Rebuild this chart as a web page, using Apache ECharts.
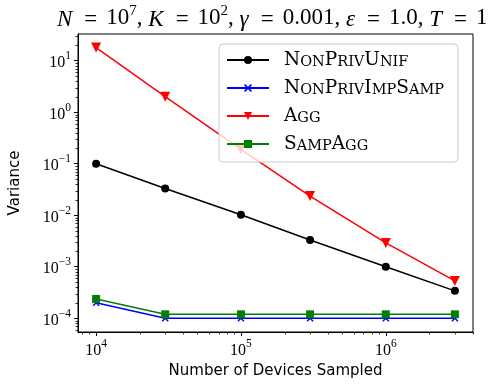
<!DOCTYPE html>
<html>
<head>
<meta charset="utf-8">
<script src="https://cdn.jsdelivr.net/npm/echarts@6/dist/echarts.min.js"></script>
<style>
  html, body { margin: 0; padding: 0; background: #fff; }
  #main { width: 498px; height: 388px; }
</style>
</head>
<body>
<div id="main"></div>
<script>
// number of devices sampled (x)
var devices = [1e4, 3e4, 1e5, 3e5, 1e6, 3e6];
// variance per method
var nonPrivUnif = [0.1, 0.033, 0.0102, 0.0033, 0.001, 0.00034];
var nonPrivImpSamp = [0.0002, 0.0001, 0.0001, 0.0001, 0.0001, 0.0001];
var agg = [18, 2.0, 0.19, 0.0235, 0.0029, 0.00053];
var sampAgg = [0.000236, 0.000119, 0.000119, 0.000119, 0.000119, 0.000119];
var seriesNames = ['NonPrivUnif', 'NonPrivImpSamp', 'Agg', 'SampAgg'];
// minor tick values
var xMinorTicks = [8e3, 9e3, 2e4, 3e4, 4e4, 5e4, 6e4, 7e4, 8e4, 9e4,
  2e5, 3e5, 4e5, 5e5, 6e5, 7e5, 8e5, 9e5, 2e6, 3e6, 4e6];
var yMinorTicks = [6e-5, 7e-5, 8e-5, 9e-5,
  2e-4, 3e-4, 4e-4, 5e-4, 6e-4, 7e-4, 8e-4, 9e-4,
  2e-3, 3e-3, 4e-3, 5e-3, 6e-3, 7e-3, 8e-3, 9e-3,
  2e-2, 3e-2, 4e-2, 5e-2, 6e-2, 7e-2, 8e-2, 9e-2,
  2e-1, 3e-1, 4e-1, 5e-1, 6e-1, 7e-1, 8e-1, 9e-1,
  2, 3, 4, 5, 6, 7, 8, 9, 20, 30];

var xMin = 7500, xMax = 4e6, yMin = 5.4e-5, yMax = 33;
var serif = 'Liberation Serif';
var legendFont = 'DejaVu Serif';

function pairs(vals) {
  return devices.map(function (x, i) { return [x, vals[i]]; });
}

function pow10(v) {
  var e = Math.round(Math.log(v) / Math.LN10);
  return '{b|10}{e|' + (e < 0 ? '\u2212' + (-e) : e) + '}';
}

// small caps imitation
function smallCaps(word) {
  var out = '';
  var m = word.match(/[A-Z][a-z]*/g);
  m.forEach(function (w) {
    out += '{c|' + w[0] + '}';
    if (w.length > 1) out += '{s|' + w.slice(1).toUpperCase() + '}';
  });
  return out;
}

var powRich = {
  b: { fontFamily: serif, fontSize: 16, color: '#000', lineHeight: 21, verticalAlign: 'bottom' },
  e: { fontFamily: serif, fontSize: 11.5, color: '#000', verticalAlign: 'top' }
};

var crossPath = 'path://M0,0.15L0.15,0L0.5,0.35L0.85,0L1,0.15L0.65,0.5L1,0.85L0.85,1L0.5,0.65L0.15,1L0,0.85L0.35,0.5Z';
var triDown = 'path://M0,0L1,0L0.5,0.9Z';

var chart = echarts.init(document.getElementById('main'));

var option = {
  animation: false,
  backgroundColor: '#fff',
  title: {
    text: '{i|N}{o|=}10{s|7}, {i|K}{o|=}10{s|2}, {i|\u03b3}{o|=}0.001, {i|\u03b5}{o|=}1.0, {i|T}{o|=}1',
    left: 57,
    top: 4,
    padding: 0,
    textStyle: {
      fontFamily: serif,
      fontSize: 23,
      fontWeight: 'normal',
      color: '#000',
      rich: {
        i: { fontFamily: serif, fontSize: 23, fontStyle: 'italic', color: '#000', lineHeight: 27, verticalAlign: 'bottom' },
        o: { fontFamily: serif, fontSize: 23, color: '#000', padding: [0, 9, 0, 12], verticalAlign: 'bottom', lineHeight: 27 },
        s: { fontFamily: serif, fontSize: 15, color: '#000', verticalAlign: 'top' }
      }
    }
  },
  grid: {
    left: 74, right: 25, top: 34, bottom: 56,
    show: true, borderColor: '#000', borderWidth: 1
  },
  legend: {
    orient: 'vertical',
    left: 219,
    top: 44,
    padding: [6, 14, 8, 7],
    itemWidth: 42,
    itemHeight: 10,
    itemGap: 8,
    backgroundColor: 'rgba(255,255,255,0.8)',
    borderColor: '#cccccc',
    borderWidth: 1,
    borderRadius: 4,
    data: seriesNames,
    formatter: function (name) { return smallCaps(name); },
    textStyle: {
      fontFamily: legendFont,
      fontSize: 18.5,
      color: '#000',
      lineHeight: 20,
      padding: [0, 0, 0, 10],
      rich: {
        c: { fontFamily: legendFont, fontSize: 18.5, color: '#000', lineHeight: 20, verticalAlign: 'bottom' },
        s: { fontFamily: legendFont, fontSize: 14.5, color: '#000', verticalAlign: 'bottom' }
      }
    }
  },
  xAxis: {
    type: 'log',
    logBase: 10,
    min: xMin,
    max: xMax,
    name: 'Number of Devices Sampled',
    nameLocation: 'middle',
    nameGap: 29,
    nameTextStyle: { fontFamily: 'DejaVu Sans', fontSize: 15, color: '#000' },
    axisLine: { lineStyle: { color: '#000', width: 1 } },
    axisTick: { length: 4, lineStyle: { color: '#000' } },
    splitLine: { show: false },
    axisLabel: {
      margin: 6,
      showMinLabel: false,
      showMaxLabel: false,
      formatter: pow10,
      rich: powRich
    }
  },
  yAxis: {
    type: 'log',
    logBase: 10,
    min: yMin,
    max: yMax,
    name: 'Variance',
    nameLocation: 'middle',
    nameGap: 55,
    nameTextStyle: { fontFamily: 'DejaVu Sans', fontSize: 15, color: '#000' },
    axisLine: { show: true, lineStyle: { color: '#000', width: 1 } },
    axisTick: { show: true, length: 4, lineStyle: { color: '#000' } },
    splitLine: { show: false },
    axisLabel: {
      margin: 7,
      showMinLabel: false,
      showMaxLabel: false,
      formatter: pow10,
      rich: powRich
    }
  },
  series: [
    {
      name: seriesNames[0], type: 'line', data: pairs(nonPrivUnif),
      symbol: 'circle', symbolSize: 8,
      lineStyle: { color: '#000000', width: 1.5 },
      itemStyle: { color: '#000000' }
    },
    {
      name: seriesNames[1], type: 'line', data: pairs(nonPrivImpSamp),
      symbol: crossPath, symbolSize: 7,
      lineStyle: { color: '#0000ff', width: 1.5 },
      itemStyle: { color: '#0000ff' }
    },
    {
      name: seriesNames[2], type: 'line', data: pairs(agg),
      symbol: triDown, symbolSize: [10, 10],
      lineStyle: { color: '#ff0000', width: 1.5 },
      itemStyle: { color: '#ff0000' }
    },
    {
      name: seriesNames[3], type: 'line', data: pairs(sampAgg),
      symbol: 'rect', symbolSize: 8,
      lineStyle: { color: '#008000', width: 1.5 },
      itemStyle: { color: '#008000' }
    }
  ]
};

chart.setOption(option);

// minor ticks through the axes' own scales
var xBase = chart.convertToPixel({ yAxisIndex: 0 }, yMin);
var yBase = chart.convertToPixel({ xAxisIndex: 0 }, xMin);
var minor = [];
xMinorTicks.forEach(function (v) {
  var p = Math.round(chart.convertToPixel({ xAxisIndex: 0 }, v)) + 0.5;
  minor.push({ type: 'line', shape: { x1: p, y1: xBase, x2: p, y2: xBase + 2.5 }, style: { stroke: '#000', lineWidth: 0.8 } });
});
yMinorTicks.forEach(function (v) {
  var p = Math.round(chart.convertToPixel({ yAxisIndex: 0 }, v)) + 0.5;
  minor.push({ type: 'line', shape: { x1: yBase - 2.5, y1: p, x2: yBase, y2: p }, style: { stroke: '#000', lineWidth: 0.8 } });
});
chart.setOption({ graphic: minor });
</script>
</body>
</html>
